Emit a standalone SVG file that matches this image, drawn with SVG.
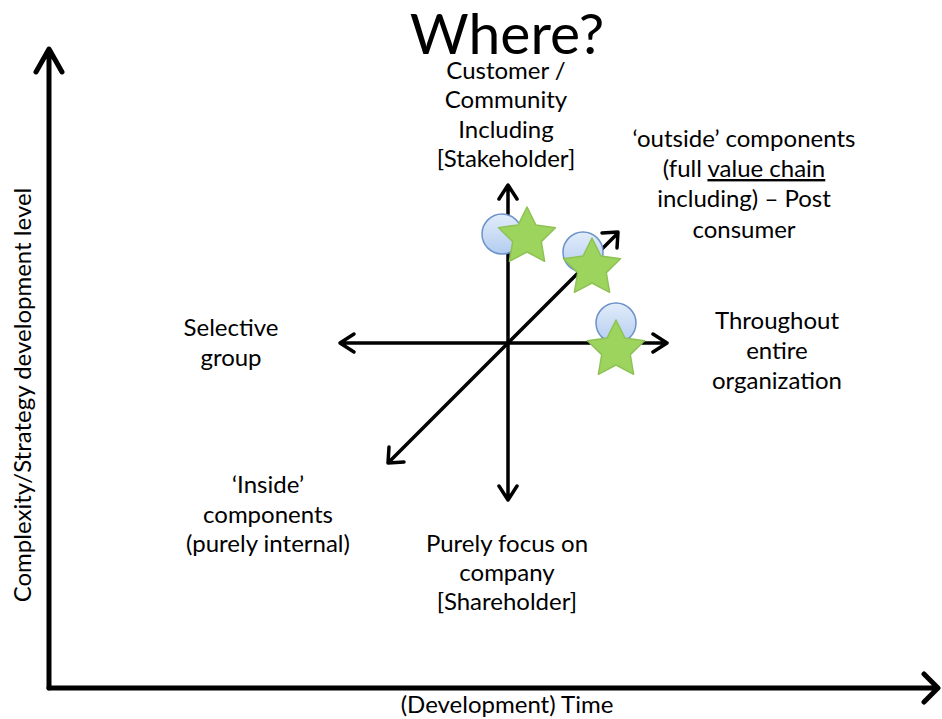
<svg xmlns="http://www.w3.org/2000/svg" width="942" height="719" viewBox="0 0 942 719">
  <style>
    .lbl { font-family: Lato, "Liberation Sans", sans-serif; font-size: 24px; fill: #000; text-anchor: middle; }
    .title { font-family: Lato, "Liberation Sans", sans-serif; font-size: 57px; fill: #000; text-anchor: middle; }
    .axis { stroke: #000; stroke-width: 5; fill: none; stroke-linecap: round; stroke-linejoin: round; }
    .cross { stroke: #000; stroke-width: 3.5; fill: none; stroke-linecap: round; stroke-linejoin: round; }
    .dot { fill: url(#dotFill); stroke: #6b93c9; stroke-width: 1.5; }
    .star { fill: #9cd45e; stroke: #8fc255; stroke-width: 1.5; stroke-linejoin: round; }
  </style>
  <defs>
    <linearGradient id="dotFill" x1="0" y1="0" x2="0" y2="1">
      <stop offset="0" stop-color="#e2ecfa"/>
      <stop offset="1" stop-color="#b3cdf0"/>
    </linearGradient>
    <!-- five-point star, outer radius 30, inner radius 15, centred on origin -->
    <polygon id="starShape" class="star" points="0,-30 8.8,-12.1 28.5,-9.3 14.3,4.6 17.6,24.3 0,15 -17.6,24.3 -14.3,4.6 -28.5,-9.3 -8.8,-12.1"/>
  </defs>

  <rect width="942" height="719" fill="#fff"/>

  <!-- main chart axes -->
  <g id="axes">
    <path class="axis" d="M49,688 L49,50 M36,72 L49,49 L62,72"/>
    <path class="axis" d="M49,688 L936,688 M924,674 L938,688 L924,702"/>
  </g>

  <!-- four-way cross of directions -->
  <g id="connectors">
    <path class="cross" d="M508,343 L508,186 M499,199 L508,185 L517,199"/>
    <path class="cross" d="M508,343 L508,499 M499,486 L508,500 L517,486"/>
    <path class="cross" d="M508,343 L341,343 M354,334 L340,343 L354,352"/>
    <path class="cross" d="M508,343 L666,343 M653,334 L667,343 L653,352"/>
    <path class="cross" d="M508,343 L389,462 M389,447 L388,463 L404,462"/>
    <path class="cross" d="M508,343 L617,234 M602,233 L618,232 L617,248"/>
  </g>

  <!-- markers along the directions -->
  <g id="marker-community">
    <circle class="dot" cx="502" cy="234" r="20"/>
    <use href="#starShape" x="527" y="237"/>
  </g>
  <g id="marker-valuechain">
    <circle class="dot" cx="583" cy="252" r="20"/>
    <use href="#starShape" x="592" y="268"/>
  </g>
  <g id="marker-organization">
    <circle class="dot" cx="616" cy="323" r="20"/>
    <use href="#starShape" x="616" y="350"/>
  </g>

  <g id="title">
    <text class="title" x="507" y="54">Where?</text>
  </g>

  <g id="label-top">
    <text class="lbl" x="506" y="79">Customer /</text>
    <text class="lbl" x="506" y="108">Community</text>
    <text class="lbl" x="506" y="138">Including</text>
    <text class="lbl" x="506" y="167">[Stakeholder]</text>
  </g>

  <g id="label-outside">
    <text class="lbl" x="744" y="147">‘outside’ components</text>
    <text class="lbl" x="744" y="177">(full <tspan text-decoration="underline">value chain</tspan></text>
    <text class="lbl" x="744" y="207">including) – Post</text>
    <text class="lbl" x="744" y="238">consumer</text>
  </g>

  <g id="label-selective">
    <text class="lbl" x="231" y="336">Selective</text>
    <text class="lbl" x="231" y="366">group</text>
  </g>

  <g id="label-throughout">
    <text class="lbl" x="777" y="329">Throughout</text>
    <text class="lbl" x="777" y="359">entire</text>
    <text class="lbl" x="777" y="389">organization</text>
  </g>

  <g id="label-inside">
    <text class="lbl" x="268" y="493">‘Inside’</text>
    <text class="lbl" x="268" y="523">components</text>
    <text class="lbl" x="268" y="552">(purely internal)</text>
  </g>

  <g id="label-bottom">
    <text class="lbl" x="507" y="552">Purely focus on</text>
    <text class="lbl" x="507" y="581">company</text>
    <text class="lbl" x="507" y="610">[Shareholder]</text>
  </g>

  <g id="label-yaxis">
    <text class="lbl" transform="translate(31,395) rotate(-90)" x="0" y="0">Complexity/Strategy development level</text>
  </g>
  <g id="label-xaxis">
    <text class="lbl" x="507" y="713">(Development) Time</text>
  </g>
</svg>
